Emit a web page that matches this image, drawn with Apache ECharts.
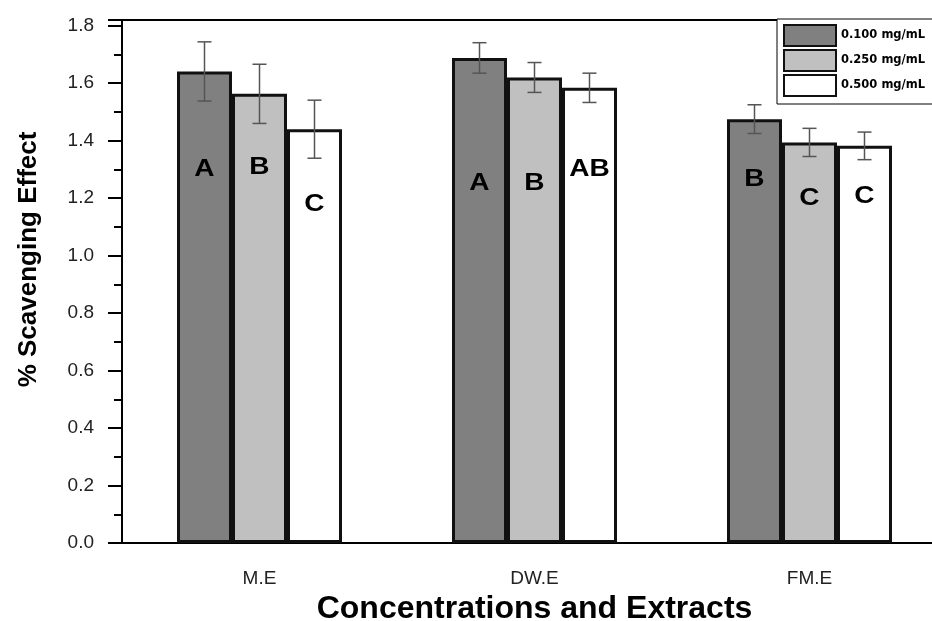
<!DOCTYPE html>
<html>
<head>
<meta charset="utf-8">
<script src="https://cdn.jsdelivr.net/npm/echarts@6/dist/echarts.min.js"></script>
<style>
    html, body { margin: 0; padding: 0; background: #fff; }
    #chart { width: 932px; height: 621px; }
</style>
</head>
<body>
<div id="chart"></div>
<script>
// 数据
const categories = ["M.E", "DW.E", "FM.E"];
const seriesNames = ["0.100 mg/mL", "0.250 mg/mL", "0.500 mg/mL"];
const seriesColors = ["#808080", "#c0c0c0", "#ffffff"];

const values100 = [1.641, 1.688, 1.475];
const values250 = [1.563, 1.620, 1.394];
const values500 = [1.440, 1.584, 1.382];

const err100 = [0.103, 0.053, 0.050];
const err250 = [0.103, 0.052, 0.049];
const err500 = [0.101, 0.051, 0.048];

// 显著性字母及其所在高度
const letters100 = ["A", "A", "B"];
const letters250 = ["B", "B", "C"];
const letters500 = ["C", "AB", "C"];
const letterY100 = [1.30, 1.25, 1.265];
const letterY250 = [1.305, 1.25, 1.198];
const letterY500 = [1.178, 1.30, 1.204];

const yTicks = { min: 0, max: 1.82, interval: 0.2 };

const font = "'Liberation Sans', Arial, sans-serif";

const values = [values100, values250, values500];
const errs = [err100, err250, err500];
const letters = [letters100, letters250, letters500];
const letterYs = [letterY100, letterY250, letterY500];

const chart = echarts.init(document.getElementById("chart"));

// 柱子在组内的偏移
const barOffset = (api, k) => {
    let band = api.size([1, 0])[0];
    return (k - 1) * band * 0.2;
};

let series = [];
for (let k = 0; k < 3; k++) {
    series.push({
        name: seriesNames[k],
        type: "bar",
        data: values[k],
        barWidth: "20%",
        barGap: "0%",
        itemStyle: {
            color: seriesColors[k],
            borderColor: "#111",
            borderWidth: 3
        },
        z: 2
    });
}
for (let k = 0; k < 3; k++) {
    series.push({
        type: "custom",
        data: values[k].map((v, i) => [i, v - errs[k][i], v + errs[k][i]]),
        z: 5,
        silent: true,
        renderItem: (params, api) => {
            let lo = api.coord([api.value(0), api.value(1)]);
            let hi = api.coord([api.value(0), api.value(2)]);
            let x = lo[0] + barOffset(api, k);
            let cap = 7;
            let style = { stroke: "#555", lineWidth: 1.5 };
            return {
                type: "group",
                children: [
                    { type: "line", shape: { x1: x, y1: hi[1], x2: x, y2: lo[1] }, style },
                    { type: "line", shape: { x1: x - cap, y1: hi[1], x2: x + cap, y2: hi[1] }, style },
                    { type: "line", shape: { x1: x - cap, y1: lo[1], x2: x + cap, y2: lo[1] }, style }
                ]
            };
        }
    });
}
for (let k = 0; k < 3; k++) {
    series.push({
        type: "custom",
        data: letterYs[k].map((v, i) => [i, v]),
        z: 6,
        silent: true,
        renderItem: (params, api) => {
            let p = api.coord([api.value(0), api.value(1)]);
            return {
                type: "text",
                x: p[0] + barOffset(api, k),
                y: p[1],
                scaleX: 1.22,
                style: {
                    text: letters[k][params.dataIndex],
                    fill: "#000",
                    font: "bold 23px " + font,
                    align: "center",
                    verticalAlign: "middle"
                }
            };
        }
    });
}

const option = {
    animation: false,
    textStyle: { fontFamily: font },
    grid: { left: 122, top: 20, bottom: 78, right: -15, containLabel: false, outerBoundsMode: "none" },
    legend: {
        data: seriesNames,
        orient: "vertical",
        left: 777,
        top: 19,
        icon: "rect",
        itemWidth: 52,
        itemHeight: 21,
        itemGap: 2,
        padding: [5, 30, 7, 6],
        borderColor: "#000",
        borderWidth: 1,
        backgroundColor: "#fff",
        selectedMode: false,
        textStyle: { fontSize: 11.5, fontWeight: "bold", color: "#000", fontFamily: "'DejaVu Sans', sans-serif" }
    },
    xAxis: [
        {
            type: "category",
            data: categories,
            position: "bottom",
            axisLine: { lineStyle: { color: "#000", width: 2 } },
            axisTick: { alignWithLabel: true, length: 13, lineStyle: { color: "#000", width: 2 } },
            axisLabel: { fontSize: 19, color: "#222", margin: 26, fontFamily: font },
            name: "Concentrations and Extracts",
            nameLocation: "middle",
            nameGap: 50,
            nameMoveOverlap: false,
            nameTextStyle: { fontSize: 32, fontWeight: "bold", color: "#000", fontFamily: font }
        },
        {
            type: "category",
            data: categories,
            position: "bottom",
            axisLine: { show: false },
            axisTick: { length: 8, lineStyle: { color: "#000", width: 2 } },
            axisLabel: { show: false }
        },
        {
            type: "category",
            data: categories,
            position: "top",
            axisLine: { lineStyle: { color: "#000", width: 2 } },
            axisTick: { show: false },
            axisLabel: { show: false }
        }
    ],
    yAxis: {
        type: "value",
        min: yTicks.min,
        max: yTicks.max,
        interval: yTicks.interval,
        axisLine: { show: true, lineStyle: { color: "#000", width: 2 } },
        axisTick: { show: true, length: 14, lineStyle: { color: "#000", width: 2 } },
        minorTick: { show: true, splitNumber: 2, length: 8, lineStyle: { color: "#000", width: 2 } },
        splitLine: { show: false },
        axisLabel: {
            fontSize: 19,
            color: "#222",
            margin: 28,
            showMaxLabel: false,
            fontFamily: font,
            formatter: v => v.toFixed(1)
        },
        name: "% Scavenging Effect",
        nameLocation: "middle",
        nameGap: 80,
        nameMoveOverlap: false,
        nameTextStyle: { fontSize: 26, fontWeight: "bold", color: "#000", fontFamily: font, padding: [0, 0, 0, 44] }
    },
    series
};

chart.setOption(option);
</script>
</body>
</html>
